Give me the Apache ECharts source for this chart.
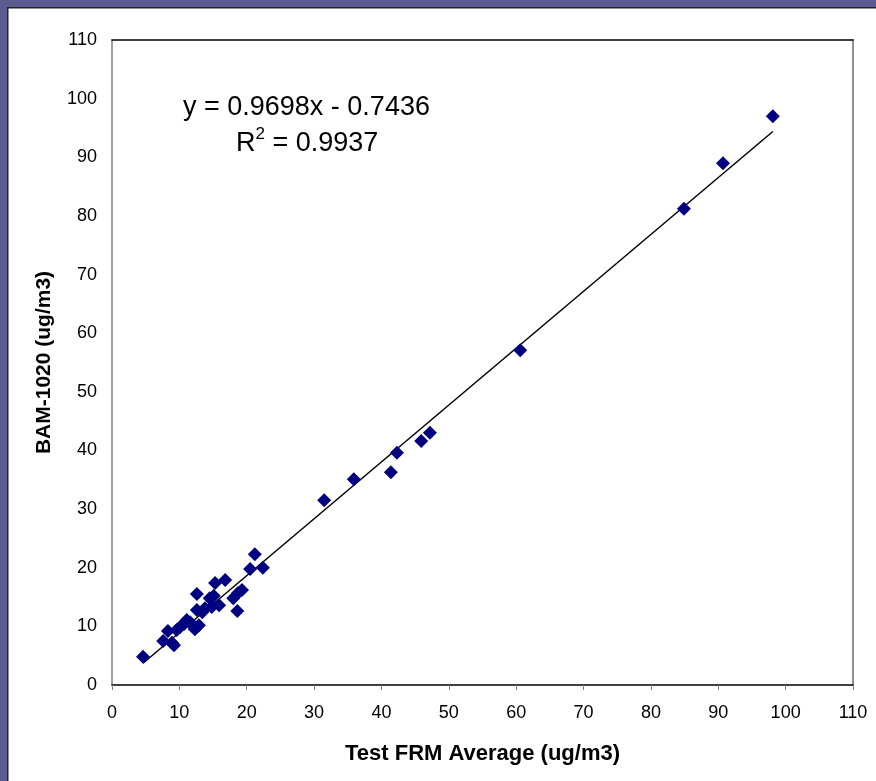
<!DOCTYPE html>
<html><head><meta charset="utf-8">
<script src="https://cdn.jsdelivr.net/npm/echarts@6/dist/echarts.min.js"></script>
<style>html,body{margin:0;padding:0;background:#fff}#c{width:876px;height:781px}</style>
</head><body><div id="c"></div>
<script>
const frmAverage = [4.6,7.6,8.3,8.9,9.2,9.6,10.1,10.7,11.1,11.6,12.0,12.3,12.6,12.6,12.9,13.4,13.8,14.5,14.8,15.1,15.3,15.9,16.8,18.0,18.6,18.7,19.3,20.5,21.2,22.4,31.5,35.9,41.4,42.3,45.9,47.2,60.6,84.9,90.7,98.1];
const bam1020 =    [4.8,7.5,9.2,7.2,6.8,9.4,9.9,10.4,11.1,10.7,10.1,9.5,12.8,15.5,10.2,12.4,13.1,14.8,13.3,15.2,17.4,13.6,17.9,14.8,12.6,15.7,16.2,19.8,22.3,20.0,31.5,35.1,36.3,39.6,41.6,43.0,57.1,81.2,89.0,97.0];
const xTicks = [0,10,20,30,40,50,60,70,80,90,100,110];
const yTicks = [0,10,20,30,40,50,60,70,80,90,100,110];
const slope = 0.9698, intercept = -0.7436;
const eqText = 'y = 0.9698x - 0.7436';
const r2Value = '0.9937';

const pts = frmAverage.map((x,i)=>[x,bam1020[i]]);
const xmin = Math.min(...frmAverage), xmax = Math.max(...frmAverage);
const trend = [[xmin, slope*xmin+intercept],[xmax, slope*xmax+intercept]];
const ff = '"Liberation Sans", Arial, sans-serif';
const chart = echarts.init(document.getElementById('c'));
chart.setOption({
  animation:false,
  backgroundColor:'#fff',
  grid:{left:112,top:40,right:23,bottom:96,containLabel:false},
  xAxis:[{type:'value',min:0,max:110,interval:10,
    name:'Test FRM Average (ug/m3)',nameLocation:'middle',nameGap:58,
    nameTextStyle:{fontFamily:ff,fontSize:22,fontWeight:'bold',color:'#000'},
    axisLine:{lineStyle:{color:'#000',width:1.5}},
    axisTick:{show:true,length:5,lineStyle:{color:'#808080'}},
    axisLabel:{fontFamily:ff,fontSize:18,color:'#000',margin:19,
      formatter:v=>xTicks.includes(v)?String(v):''},
    splitLine:{show:false}},
    {type:'value',position:'top',min:0,max:110,
     axisLine:{show:true,onZero:false,lineStyle:{color:'#000',width:1.5}},
     axisTick:{show:false},axisLabel:{show:false},splitLine:{show:false}}],
  yAxis:[{type:'value',min:0,max:110,interval:10,
    name:'BAM-1020 (ug/m3)',nameLocation:'middle',nameGap:57,
    nameTextStyle:{fontFamily:ff,fontSize:21,fontWeight:'bold',color:'#000'},
    axisLine:{show:true,onZero:false,lineStyle:{color:'#808080',width:1.5}},
    axisTick:{show:false},
    axisLabel:{fontFamily:ff,fontSize:18,color:'#000',margin:15,
      formatter:v=>yTicks.includes(v)?String(v):''},
    splitLine:{show:false}},
    {type:'value',position:'right',min:0,max:110,
     axisLine:{show:true,onZero:false,lineStyle:{color:'#909090',width:2}},
     axisTick:{show:false},axisLabel:{show:false},splitLine:{show:false}}],
  series:[
    {type:'line',data:trend,symbol:'none',lineStyle:{color:'#000',width:1.5},z:2},
    {type:'scatter',data:pts,symbol:'diamond',symbolSize:14,itemStyle:{color:'#000080',opacity:1},z:3}
  ],
  graphic:[
    {type:'rect',shape:{x:0,y:0,width:876,height:7},style:{fill:'#5b5b8f'},z:100},
    {type:'rect',shape:{x:0,y:0,width:7,height:781},style:{fill:'#5b5b8f'},z:100},
    {type:'rect',shape:{x:7,y:7,width:869,height:1.5},style:{fill:'#222233'},z:100},
    {type:'rect',shape:{x:7,y:7,width:1.5,height:774},style:{fill:'#222233'},z:100},
    {type:'text',left:183,top:94,style:{text:eqText,font:'27px '+ff,fill:'#000'},z:50},
    {type:'text',left:236,top:126,style:{
      text:'{r|R}{s|2}{r| = '+r2Value+'}',
      rich:{r:{fontFamily:ff,fontSize:27,fill:'#000',verticalAlign:'bottom'},
            s:{fontFamily:ff,fontSize:17,fill:'#000',verticalAlign:'top',padding:[0,0,14,0]}}},z:50}
  ]
});
</script></body></html>
